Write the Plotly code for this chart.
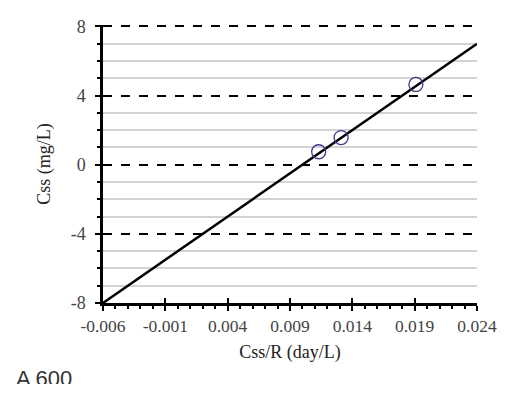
import plotly.graph_objects as go

# Data
css_over_r = [0.0113, 0.0131, 0.0191]
css = [0.75, 1.57, 4.64]
fit_x = [-0.006, 0.024]
fit_slope = 500.0
fit_intercept = -5.0
fit_y = [fit_slope * v + fit_intercept for v in fit_x]
x_ticks = [-0.006, -0.001, 0.004, 0.009, 0.014, 0.019, 0.024]
x_tick_labels = ["-0.006", "-0.001", "0.004", "0.009", "0.014", "0.019", "0.024"]
y_ticks = [-8, -4, 0, 4, 8]
y_tick_labels = ["-8", "-4", "0", "4", "8"]
x_title = "Css/R (day/L)"
y_title = "Css (mg/L)"
caption = "A 600"

serif = "Liberation Serif, Times New Roman, serif"

fig = go.Figure()
fig.add_trace(go.Scatter(x=fit_x, y=fit_y, mode="lines",
                         line=dict(color="black", width=2.5), showlegend=False))
fig.add_trace(go.Scatter(x=css_over_r, y=css, mode="markers",
                         marker=dict(symbol="circle-open", size=14,
                                     line=dict(color="#3a3a8c", width=1.3),
                                     color="#3a3a8c"),
                         showlegend=False))
# invisible trace on overlay axis for inside ticks
fig.add_trace(go.Scatter(x=fit_x, y=fit_y, xaxis="x2", mode="lines",
                         line=dict(width=0), hoverinfo="skip", showlegend=False))

# page body has an 8px margin, so offset left/top margins accordingly
fig.update_layout(
    width=520, height=402,
    margin=dict(l=95, r=51, t=17, b=107),
    paper_bgcolor="white", plot_bgcolor="white",
    font=dict(family=serif, size=17, color="#333333"),
    xaxis=dict(
        range=[-0.006, 0.024], tickmode="array", tickvals=x_ticks,
        ticktext=x_tick_labels, showgrid=False, zeroline=False, automargin=False,
        showline=True, linecolor="black", linewidth=2.5,
        ticks="outside", ticklen=5, tickwidth=2, tickcolor="black",
        minor=dict(dtick=0.001, tick0=-0.006, ticks="outside", ticklen=3,
                   tickwidth=1.5, tickcolor="black", showgrid=False),
        title=dict(text=x_title, font=dict(family=serif, size=18, color="#222"), standoff=11),
        tickfont=dict(family=serif, size=17.5, color="#444"),
    ),
    xaxis2=dict(
        range=[-0.006, 0.024], overlaying="x", matches="x", tickmode="array",
        tickvals=x_ticks, showticklabels=False, showgrid=False, zeroline=False,
        automargin=False,
        ticks="inside", ticklen=5, tickwidth=2, tickcolor="black", side="bottom",
    ),
    yaxis=dict(
        range=[-8, 8.08], tickmode="array", tickvals=y_ticks, ticktext=y_tick_labels,
        showgrid=True, gridcolor="black", gridwidth=1.5, griddash="dash",
        zeroline=False, showline=True, linecolor="black", linewidth=2.5,
        automargin=False, ticklabelstandoff=6,
        ticks="outside", ticklen=5, tickwidth=2, tickcolor="black",
        minor=dict(tickvals=[-7, -6, -5, -3, -2, -1, 1, 2, 3, 5, 6, 7],
                   ticks="outside", ticklen=3, tickwidth=1.5,
                   tickcolor="black", showgrid=True, gridcolor="#d3d3d3",
                   gridwidth=1.5, griddash="solid"),
        title=dict(text=y_title, font=dict(family=serif, size=18, color="#222"), standoff=16),
        tickfont=dict(family=serif, size=18, color="#444"),
    ),
    annotations=[dict(text=caption, xref="paper", yref="paper", x=-0.236, y=-0.222,
                      xanchor="left", yanchor="top", valign="top", height=18,
                      showarrow=False, borderpad=0,
                      font=dict(family="Liberation Sans, Arial, sans-serif", size=22, color="#333"))],
)

fig.write_html("out.html")
